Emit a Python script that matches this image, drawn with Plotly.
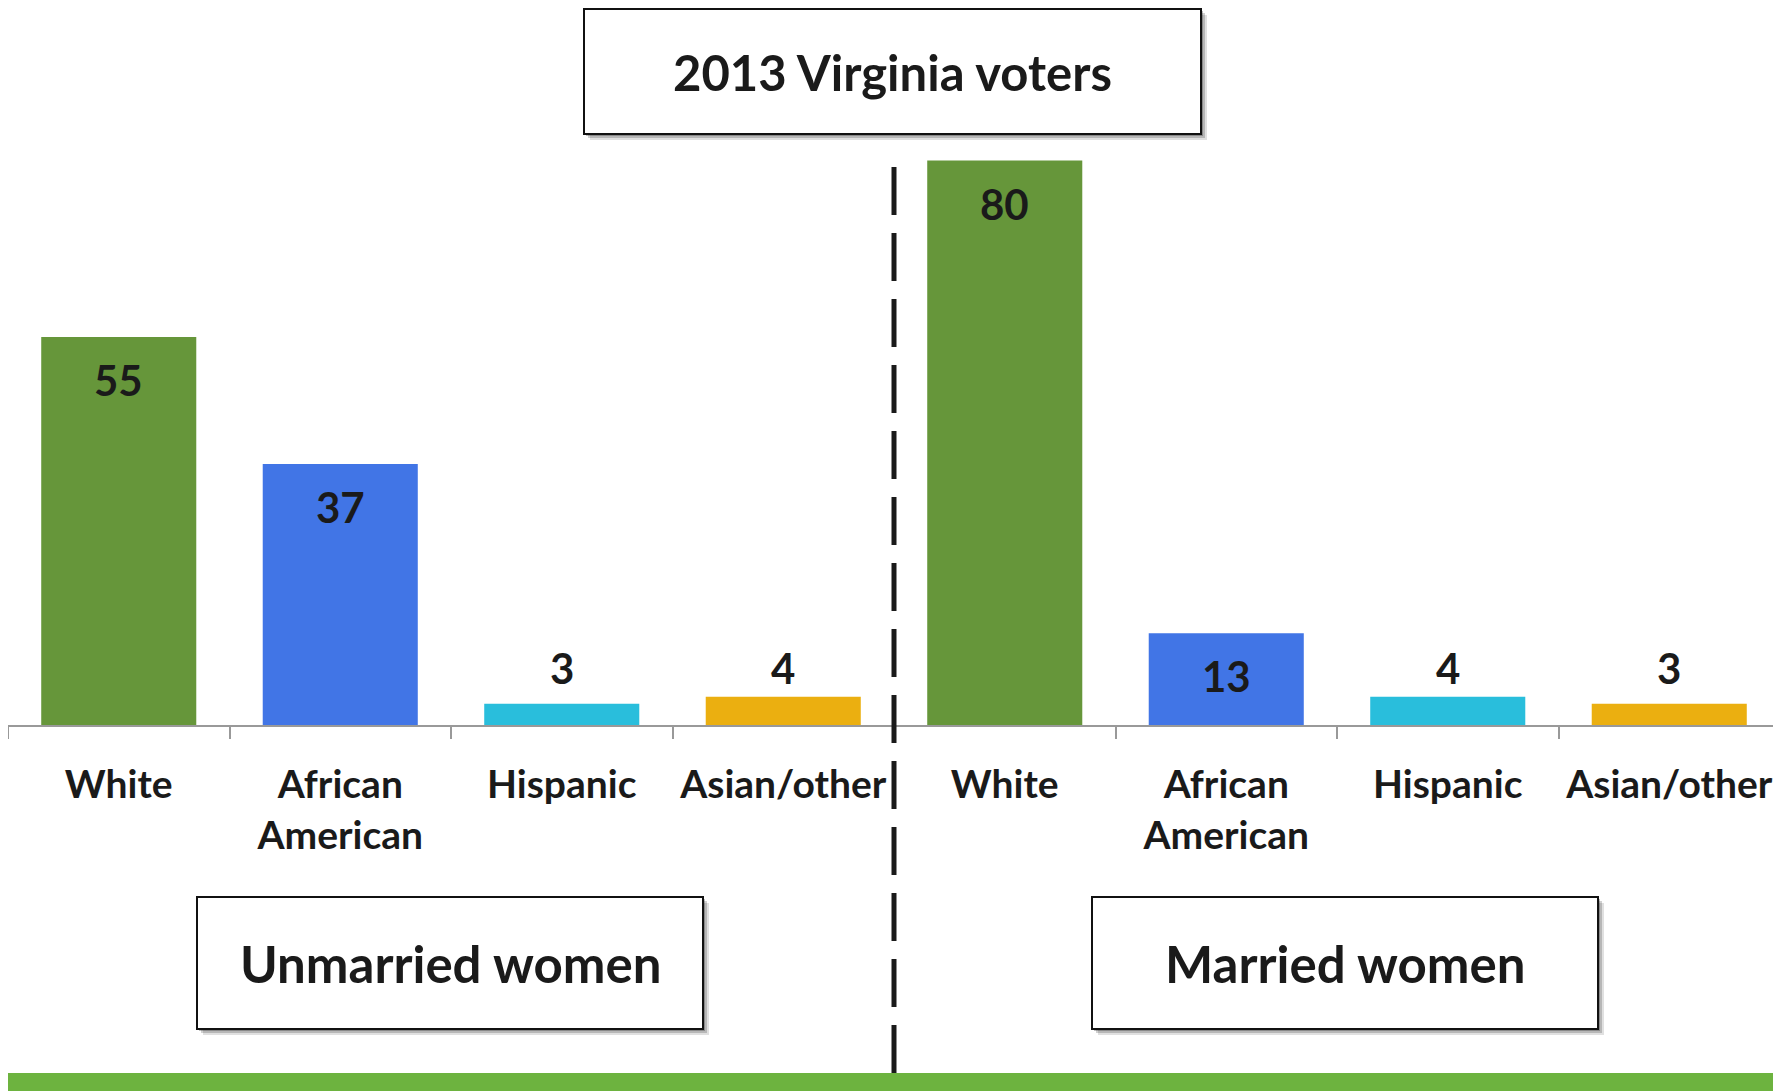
import plotly.graph_objects as go

# data
categories = ["White", "African<br>American", "Hispanic", "Asian/other",
              "White", "African<br>American", "Hispanic", "Asian/other"]
values = [55, 37, 3, 4, 80, 13, 4, 3]
bar_colors = ["#66963a", "#4175e6", "#29bedc", "#ebaf10",
              "#66963a", "#4175e6", "#29bedc", "#ebaf10"]
title_text = "2013 Virginia voters"
group_labels = ["Unmarried women", "Married women"]

# the page body adds an 8px margin, so the figure is sized/positioned to compensate
OFF = 8
SCREEN_W, SCREEN_H = 1781, 1091
W, H = SCREEN_W - OFF, SCREEN_H - OFF
ML, MR, MT, MB = 0, 1, 82, H - (725 - OFF)
PW = W - ML - MR
PH = H - MT - MB
FONT = "Lato"
DARK = "#1a1a1a"


def px_x(x):
    # screen pixel -> paper x
    return (x - OFF - ML) / PW


def px_y(y):
    # screen pixel -> paper y
    return (H - MB - (y - OFF)) / PH


xs = list(range(len(values)))

fig = go.Figure()
fig.add_trace(
    go.Bar(
        x=xs,
        y=values,
        marker_color=bar_colors,
        marker_line_width=0,
        hoverinfo="skip",
    )
)

# value labels: inside near the top for tall bars, on a common line above the short ones
for x, v in zip(xs, values):
    inside = v >= 10
    fig.add_annotation(
        x=x, y=v if inside else 0, text=str(v), showarrow=False,
        yshift=-43 if inside else 57,
        yanchor="middle",
        font=dict(family=FONT, size=42, color=DARK, weight="bold"),
    )


def box(x0, y0, x1, y1, text, size):
    # soft shadow then white box with black border
    for off, a in [(6, 0.12), (4, 0.18), (2, 0.25)]:
        fig.add_shape(
            type="rect", xref="paper", yref="paper",
            x0=px_x(x0 + off), x1=px_x(x1 + off),
            y0=px_y(y0 + off), y1=px_y(y1 + off),
            line_width=0, fillcolor="rgba(0,0,0,%s)" % a, layer="above",
        )
    fig.add_shape(
        type="rect", xref="paper", yref="paper",
        x0=px_x(x0), x1=px_x(x1), y0=px_y(y0), y1=px_y(y1),
        line=dict(color="#111111", width=2), fillcolor="white", layer="above",
    )
    fig.add_annotation(
        xref="paper", yref="paper",
        x=px_x((x0 + x1) / 2), y=px_y((y0 + y1) / 2),
        text=text, showarrow=False, xanchor="center", yanchor="middle",
        font=dict(family=FONT, size=size, color=DARK, weight="bold"),
    )


box(584, 9, 1201, 134, title_text, 49)
box(197, 897, 703, 1029, group_labels[0], 51)
box(1092, 897, 1598, 1029, group_labels[1], 51)

# dashed divider between the two groups
fig.add_shape(
    type="line", xref="x", yref="paper",
    x0=3.5, x1=3.5, y0=px_y(167), y1=px_y(1073),
    line=dict(color=DARK, width=5, dash="48px,18px"), layer="above",
)

# green band at the bottom
fig.add_shape(
    type="rect", xref="paper", yref="paper",
    x0=px_x(0), x1=px_x(SCREEN_W + 2), y0=px_y(1073), y1=px_y(SCREEN_H + 2),
    line_width=0, fillcolor="#6db33f", layer="above",
)

fig.update_layout(
    width=W,
    height=H,
    margin=dict(l=ML, r=MR, t=MT, b=MB),
    paper_bgcolor="white",
    plot_bgcolor="white",
    showlegend=False,
    bargap=0.3,
    xaxis=dict(
        range=[-0.5, len(values) - 0.5],
        tickvals=xs,
        ticktext=categories,
        ticks="outside",
        ticklen=0,
        tickcolor="rgba(0,0,0,0)",
        ticklabelstandoff=24,
        showline=True,
        linecolor="#999999",
        linewidth=2,
        showgrid=False,
        zeroline=False,
        tickfont=dict(family=FONT, size=39, color=DARK, weight="bold"),
        minor=dict(
            tickmode="array",
            tickvals=[x - 0.5 for x in xs] + [len(xs) - 0.5],
            ticks="outside",
            ticklen=12,
            tickwidth=2,
            tickcolor="#999999",
            showgrid=False,
        ),
        fixedrange=True,
    ),
    yaxis=dict(
        range=[0, 90],
        visible=False,
        showgrid=False,
        zeroline=False,
        fixedrange=True,
    ),
)

fig.write_html("out.html")
